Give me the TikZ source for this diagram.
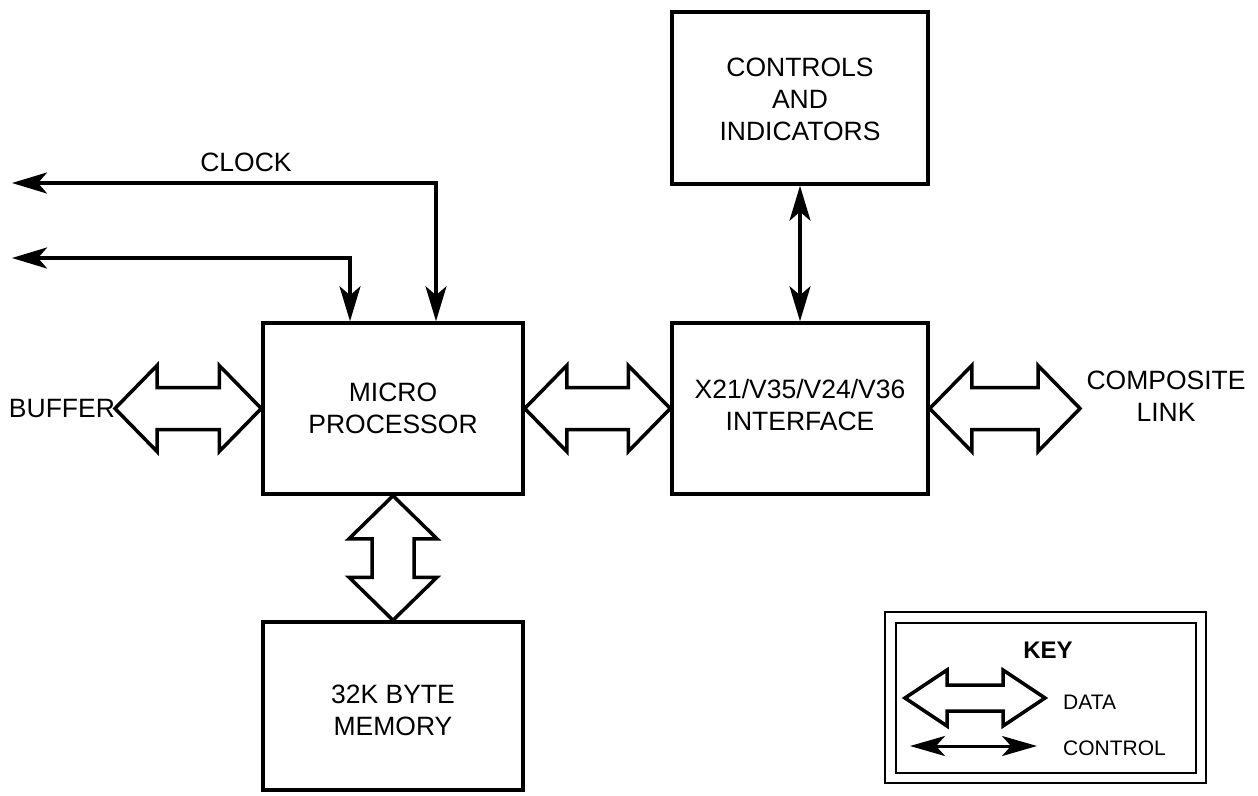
\documentclass[tikz,border=0pt]{standalone}
\usepackage{fontspec}
\setmainfont{Liberation Sans}
\usetikzlibrary{arrows.meta,calc}

\tikzset{
  block/.style={draw, line width=3.5pt, rectangle, inner sep=0pt},
  label/.style={align=center, font=\fontsize{26.5}{32}\selectfont, inner sep=0pt},
  keylabel/.style={anchor=west, font=\fontsize{21}{25}\selectfont, inner sep=0pt},
  ctrlarrow/.style={line width=3.5pt,
    {Stealth[length=35pt,width=21pt,inset=9pt]}-{Stealth[length=35pt,width=21pt,inset=9pt]}},
  dataarrow/.style={draw, line width=3.5pt, line join=miter, fill=white},
  keyframe/.style={draw, line width=2pt, rectangle, inner sep=0pt}
}

% broad two-way data path between two points, left/upper tip first
% #1,#2 tips, #3 head length, #4 head half-width, #5 shaft half-width
\newcommand{\busH}[5]{%
  \path[dataarrow] (#1)
    -- ([shift={(#3,-#4)}]#1) -- ([shift={(#3,-#5)}]#1)
    -- ([shift={(-#3,-#5)}]#2) -- ([shift={(-#3,-#4)}]#2)
    -- (#2)
    -- ([shift={(-#3,#4)}]#2) -- ([shift={(-#3,#5)}]#2)
    -- ([shift={(#3,#5)}]#1) -- ([shift={(#3,#4)}]#1) -- cycle;}
\newcommand{\busV}[5]{%
  \path[dataarrow] (#1)
    -- ([shift={(#4,#3)}]#1) -- ([shift={(#5,#3)}]#1)
    -- ([shift={(#5,-#3)}]#2) -- ([shift={(#4,-#3)}]#2)
    -- (#2)
    -- ([shift={(-#4,-#3)}]#2) -- ([shift={(-#5,-#3)}]#2)
    -- ([shift={(-#5,#3)}]#1) -- ([shift={(-#4,#3)}]#1) -- cycle;}

\begin{document}
\begin{tikzpicture}[x=1pt,y=-1pt]
\path[use as bounding box] (0,0) rectangle (1258,795);

% main blocks
\node[block, minimum width=260pt, minimum height=171pt] (mp) at (393,408.5) {};
\node[block, minimum width=256pt, minimum height=171pt] (ifc) at (800,408.5) {};
\node[block, minimum width=256pt, minimum height=172pt] (ctl) at (800,98) {};
\node[block, minimum width=260pt, minimum height=168pt] (mem) at (393,706) {};

% block captions
\node[label] (mptxt) at (393,408) {MICRO\\PROCESSOR};
\node[label] (ifctxt) at (800,405) {X21/V35/V24/V36\\INTERFACE};
\node[label] (ctltxt) at (800,99) {CONTROLS\\AND\\INDICATORS};
\node[label] (memtxt) at (393,710) {32K BYTE\\MEMORY};

% free labels
\node[label] (clocklbl) at (246,162) {CLOCK};
\node[label] (buflbl) at (62,409) {BUFFER};
\node[label] (complbl) at (1166,396) {COMPOSITE\\LINK};

% clock and control lines
\coordinate (clkout) at (12,183);
\coordinate (clkturn) at (436,183);
\coordinate (ctlout) at (12,258);
\coordinate (ctlturn) at (350,258);
\draw[ctrlarrow] (clkout) -- (clkturn) -- (clkturn |- mp.north);
\draw[ctrlarrow] (ctlout) -- (ctlturn) -- (ctlturn |- mp.north);
\draw[ctrlarrow] (ctl.south) -- (ifc.north);

% data paths
\coordinate (buftip) at (115,408.5);
\busH{buftip}{mp.west}{42}{43}{21}
\busH{mp.east}{ifc.west}{42}{43}{21}
\coordinate (linktip) at (1080,408.5);
\busH{ifc.east}{linktip}{42}{43}{21}
\busV{mp.south}{mem.north}{43}{44}{21}

% key
\node[keyframe, minimum width=321pt, minimum height=171pt] (keyout) at (1045.5,697.5) {};
\node[keyframe, minimum width=300pt, minimum height=150pt] (keyin) at (keyout.center) {};
\node[font=\bfseries\fontsize{24}{28}\selectfont, inner sep=0pt] (keytitle) at (1048,650) {KEY};
\node[keylabel] (datalbl) at (1063,702) {DATA};
\node[keylabel] (ctrllbl) at (1063,748) {CONTROL};
\coordinate (kdl) at (905,698);
\coordinate (kdr) at (1045,698);
\busH{kdl}{kdr}{42}{28}{13}
\coordinate (kcl) at (910,746);
\coordinate (kcr) at (1037,746);
\draw[line width=3pt,
  {Stealth[length=35pt,width=20pt,inset=9pt]}-{Stealth[length=35pt,width=20pt,inset=9pt]}]
  (kcl) -- (kcr);
\end{tikzpicture}
\end{document}
